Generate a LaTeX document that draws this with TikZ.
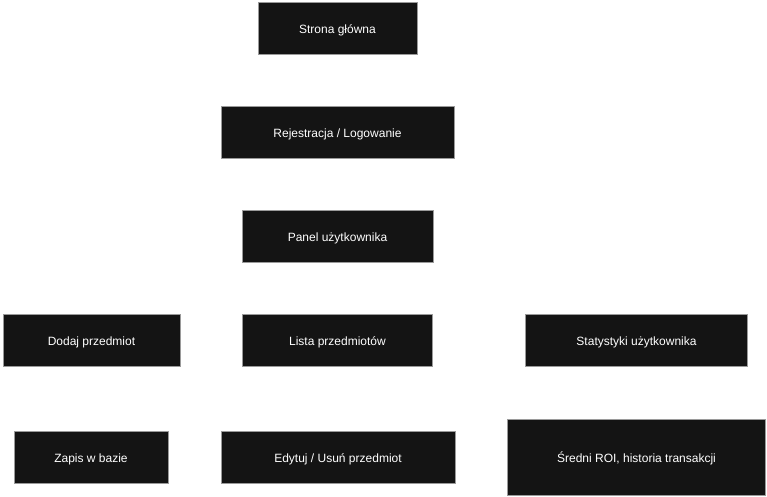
\documentclass[tikz,border=0pt]{standalone}
\usepackage{fontspec}
\setmainfont{Liberation Sans}
\definecolor{boxfill}{HTML}{141414}
\definecolor{boxline}{HTML}{9A9A9A}
\begin{document}
\begin{tikzpicture}[x=1pt,y=-1pt,
  box/.style={draw=boxline,line width=1pt,fill=boxfill,text=white,inner sep=0pt,
    font=\fontsize{12}{14}\selectfont,text height=11pt,text depth=0pt,minimum height=52pt}]
\useasboundingbox (0,0) rectangle (767,496);
\node[box,minimum width=159pt] (home) at (337.5,28) {Strona główna};
\node[box,minimum width=233pt,minimum height=51.5pt] (login) at (337.5,132.3) {Rejestracja / Logowanie};
\node[box,minimum width=191pt] (panel) at (337.5,236) {Panel użytkownika};
\node[box,minimum width=177pt] (add) at (91.5,340.3) {Dodaj przedmiot};
\node[box,minimum width=190pt] (list) at (337.5,340.3) {Lista przedmiotów};
\node[box,minimum width=222pt] (stats) at (636.5,340.3) {Statystyki użytkownika};
\node[box,minimum width=154pt] (save) at (91,457) {Zapis w bazie};
\node[box,minimum width=234pt] (edit) at (338,457) {Edytuj / Usuń przedmiot};
\node[box,minimum width=258pt,minimum height=76pt] (roi) at (636.5,457) {Średni ROI, historia transakcji};
\end{tikzpicture}
\end{document}
